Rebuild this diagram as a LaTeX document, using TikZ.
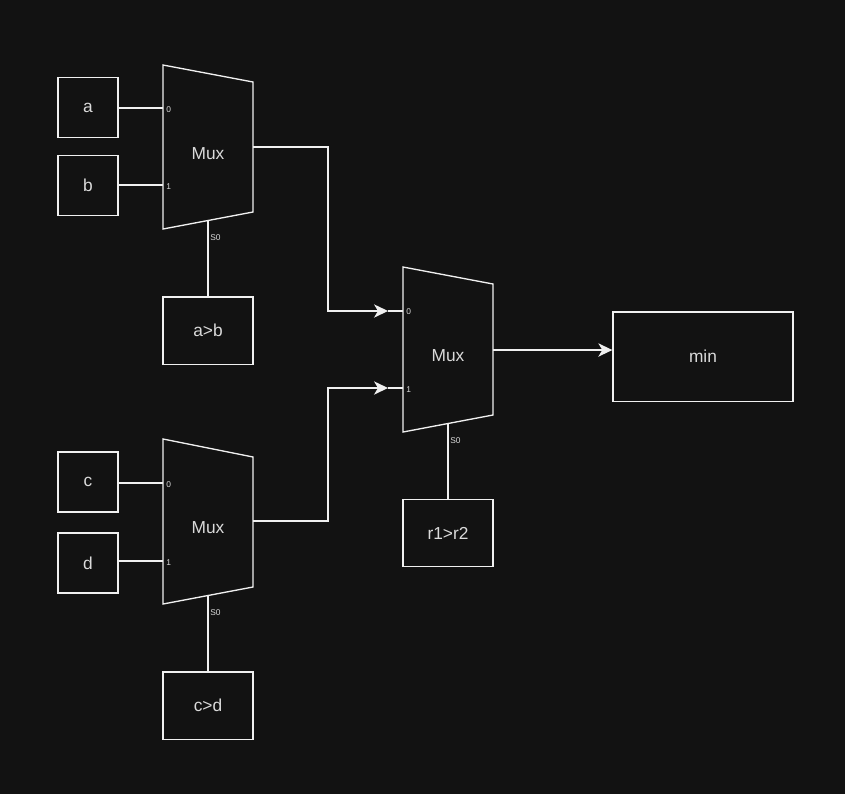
\documentclass[tikz,border=0pt]{standalone}
\usepackage{fontspec}
\setmainfont{Liberation Sans}
\usetikzlibrary{arrows.meta}
\definecolor{bgdark}{HTML}{121212}
\definecolor{wire}{HTML}{F0F0F0}
\definecolor{txt}{HTML}{DADADA}
\tikzset{
  wireline/.style={draw=wire, line width=1pt},
  arrowline/.style={wireline, -{Stealth[length=10.5pt, width=10pt, inset=3pt]}},
  box/.style={draw=wire, line width=1pt, inner sep=0pt, text=txt, font=\fontsize{13}{15}\selectfont},
  inbox/.style={box, minimum width=45pt, minimum height=45pt},
  selbox/.style={box, minimum width=67.5pt, minimum height=50.5pt},
  muxlabel/.style={text=txt, inner sep=0pt, font=\fontsize{13}{15}\selectfont},
  portlabel/.style={text=txt, inner sep=0pt, anchor=west, font=\fontsize{6.3}{7}\selectfont},
}

\begin{document}
\begin{tikzpicture}[x=0.75pt, y=-0.75pt]
    % Background
    \fill[bgdark] (0,0) rectangle (845,794);
    \useasboundingbox (0,0) rectangle (845,794);

    % Mux bodies
    \draw[wireline] (163,65) -- (253,82) -- (253,212) -- (163,229) -- cycle;
    \node[muxlabel] (mux1) at (208,153.5) {Mux};
    \draw[wireline] (403,267) -- (493,284) -- (493,415) -- (403,432) -- cycle;
    \node[muxlabel] (mux2) at (448,356) {Mux};
    \draw[wireline] (163,439) -- (253,457) -- (253,587) -- (163,604) -- cycle;
    \node[muxlabel] (mux3) at (208,528) {Mux};

    % Ports
    \coordinate (m1i0) at (163,108);
    \coordinate (m1i1) at (163,185);
    \coordinate (m1s) at (208,220.5);
    \coordinate (m1o) at (253,147);
    \coordinate (m2i0) at (388,311);
    \coordinate (m2i1) at (388,388);
    \coordinate (m2s) at (448,423.5);
    \coordinate (m2o) at (493,350);
    \coordinate (m3i0) at (163,483);
    \coordinate (m3i1) at (163,561);
    \coordinate (m3s) at (208,595.5);
    \coordinate (m3o) at (253,521);
    \draw[wireline] (m2i0) -- ++(15,0);
    \draw[wireline] (m2i1) -- ++(15,0);

    % Port labels
    \node[portlabel] at (166,110) {0};
    \node[portlabel] at (166,187) {1};
    \node[portlabel] at (210,238) {S0};
    \node[portlabel] at (406,312) {0};
    \node[portlabel] at (406,390) {1};
    \node[portlabel] at (450,441) {S0};
    \node[portlabel] at (166,485) {0};
    \node[portlabel] at (166,563) {1};
    \node[portlabel] at (210,613) {S0};

    % Boxes
    \node[inbox] (a) at (88,107.5) {a};
    \node[inbox] (b) at (88,185.5) {b};
    \node[selbox] (agtb) at (208,330.5) {a>b};
    \node[inbox] (c) at (88,482) {c};
    \node[inbox] (d) at (88,563) {d};
    \node[selbox] (cgtd) at (208,705.5) {c>d};
    \node[selbox] (rgtr) at (448,533) {r1>r2};
    \node[box, minimum width=135pt, minimum height=67pt] (min) at (703,356.5) {min};

    % Wires
    \draw[wireline] (a.east |- m1i0) -- (m1i0);
    \draw[wireline] (b.east |- m1i1) -- (m1i1);
    \draw[wireline] (c.east |- m3i0) -- (m3i0);
    \draw[wireline] (d.east |- m3i1) -- (m3i1);
    \draw[wireline] (m1s) -- (agtb);
    \draw[wireline] (m3s) -- (cgtd);
    \draw[wireline] (m2s) -- (rgtr);
    \draw[arrowline] (m1o) -- ++(75,0) |- (m2i0);
    \draw[arrowline] (m3o) -- ++(75,0) |- (m2i1);
    \draw[arrowline] (m2o) -- (m2o -| min.west);
\end{tikzpicture}
\end{document}
